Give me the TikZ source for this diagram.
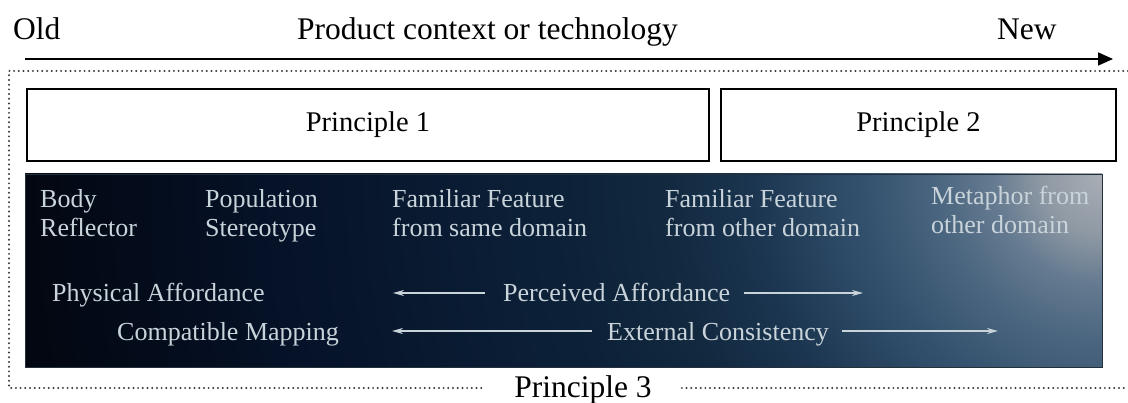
\documentclass[tikz,border=0pt]{standalone}
\usepackage{fontspec}
\setmainfont{Liberation Serif}
\usetikzlibrary{arrows.meta,calc}
\definecolor{fg}{HTML}{C9D3DA}
\definecolor{dotc}{HTML}{3A3A3A}
\definecolor{gborder}{HTML}{24303C}
\definecolor{h0}{HTML}{A8AEB5}
\definecolor{h1}{HTML}{8F99A4}
\definecolor{h2}{HTML}{647A90}
\definecolor{h3}{HTML}{4A657F}
\definecolor{h4}{HTML}{33516D}
\definecolor{h5}{HTML}{1B3550}
\definecolor{h6}{HTML}{122940}
\definecolor{h7}{HTML}{0C2138}
\definecolor{h8}{HTML}{06132A}
\definecolor{h9}{HTML}{02060F}
\pgfdeclareradialshading{glow}{\pgfpoint{0bp}{0bp}}{color(0bp)=(h0); color(1.25bp)=(h1); color(2.3bp)=(h2); color(3.5bp)=(h3); color(5bp)=(h4); color(7.3bp)=(h5); color(9bp)=(h6); color(11.5bp)=(h7); color(16.7bp)=(h8); color(23bp)=(h9); color(50bp)=(h9)}
\begin{document}
\begin{tikzpicture}[x=1pt,y=-1pt,
  toptext/.style={font=\fontsize{31.5}{36}\selectfont, anchor=base west, inner sep=0pt},
  prbox/.style={draw, line width=1.8pt, minimum height=72pt, inner sep=0pt, font=\fontsize{28.5}{32}\selectfont},
  boxtext/.style={font=\fontsize{26}{29}\selectfont, text=fg, anchor=base west, inner sep=0pt},
  inarrow/.style={draw=fg, line width=1.5pt, -{Stealth[length=11pt,width=6pt]}},
  dotframe/.style={draw=dotc, line width=2.2pt, line cap=round, dash pattern=on 0pt off 4.7pt},
  toparrow/.style={draw=black, line width=1.7pt, -{Triangle[length=15pt,width=13pt]}}]
\useasboundingbox (0,0) rectangle (1128,403);
\fill[white] (0,0) rectangle (1128,403);

% header
\node[toptext] (old) at (13,40) {Old};
\node[toptext] (ctx) at (297,40) {Product context or technology};
\node[toptext] (new) at (997,40) {New};
\coordinate (a0) at (25,59);
\coordinate (a1) at (1113,59);
\draw[toparrow] (a0) -- (a1);

% principle boxes
\node[prbox, minimum width=682pt] (p1) at (368,125) {Principle 1};
\node[prbox, minimum width=395pt] (p2) at (918.5,125) {Principle 2};

% gradient panel
\coordinate (gnw) at (25,174);
\coordinate (gse) at (1102,367);
\begin{scope}
  \clip (gnw) rectangle (gse);
  \shade[shading=glow] (-98,-1026) rectangle (2302,1374);
\end{scope}
\draw[gborder, line width=0.9pt] (gnw) rectangle (gse);

% panel texts
\node[boxtext] (body1) at (40,208) {Body};
\node[boxtext] (body2) at (40,237) {Reflector};
\node[boxtext] (pop1) at (205,208) {Population};
\node[boxtext] (pop2) at (205,237) {Stereotype};
\node[boxtext] (ffs1) at (392,208) {Familiar Feature};
\node[boxtext] (ffs2) at (392,237) {from same domain};
\node[boxtext] (ffo1) at (665,208) {Familiar Feature};
\node[boxtext] (ffo2) at (665,237) {from other domain};
\node[boxtext] (met1) at (931,205) {Metaphor from};
\node[boxtext] (met2) at (931,234) {other domain};
\node[boxtext] (phys) at (52,302) {Physical Affordance};
\node[boxtext] (comp) at (117,341) {Compatible Mapping};
\node[boxtext] (perc) at (503,302) {Perceived Affordance};
\node[boxtext] (ext) at (607,341) {External Consistency};

\coordinate (l1) at (393,293);
\coordinate (r1) at (863,293);
\coordinate (l2) at (392,331);
\coordinate (r2) at (998,331);
\draw[inarrow] ($(perc.west |- l1)+(-18,0)$) -- (l1);
\draw[inarrow] ($(perc.east |- r1)+(14,0)$) -- (r1);
\draw[inarrow] ($(ext.west |- l2)+(-15,0)$) -- (l2);
\draw[inarrow] ($(ext.east |- r2)+(13,0)$) -- (r2);

% principle 3 frame
\node[toptext, anchor=base] (p3) at (583,398) {Principle 3};
\coordinate (ftr) at (1128,71);
\coordinate (ftl) at (9,71);
\coordinate (fbl) at (9,388);
\coordinate (fbr) at (1128,388);
\draw[dotframe] (ftr) -- (ftl) -- (fbl) -- ($(p3.west |- fbl)+(-30,0)$);
\draw[dotframe] ($(p3.east |- fbr)+(30,0)$) -- (fbr);
\end{tikzpicture}
\end{document}
